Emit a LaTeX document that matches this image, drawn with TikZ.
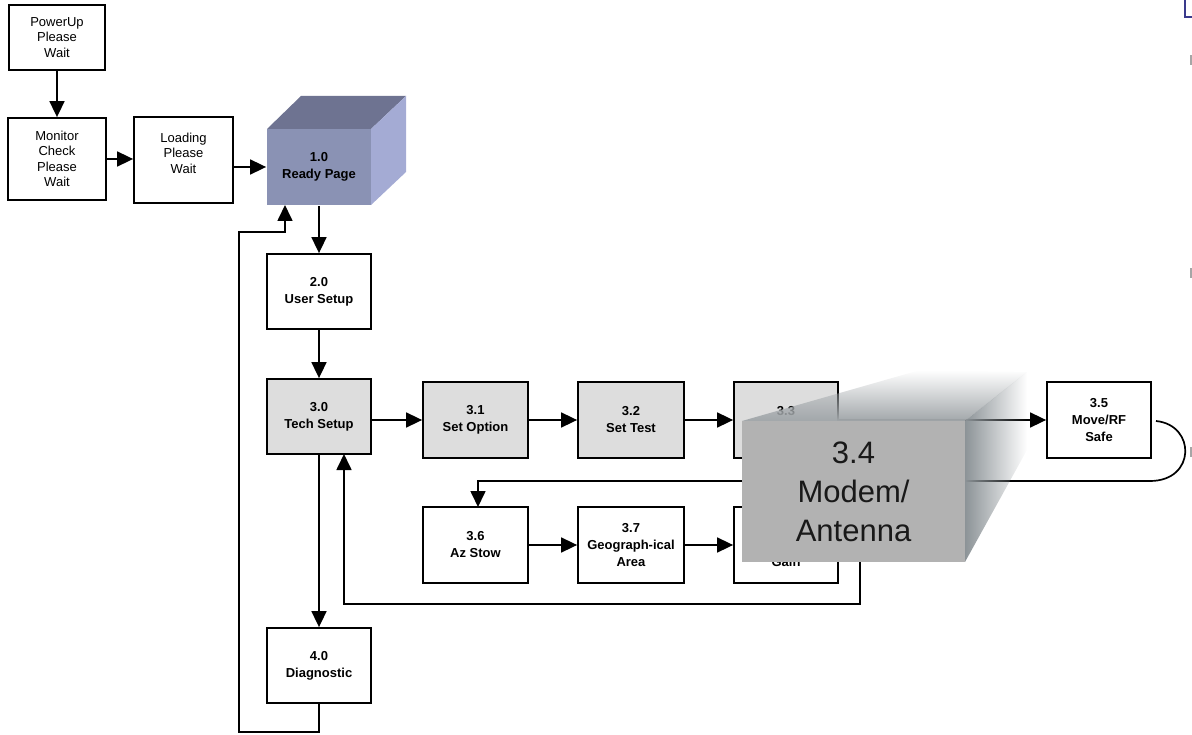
\documentclass[tikz,border=0pt]{standalone}
\usepackage{fontspec}
\setmainfont{Liberation Sans}
\usetikzlibrary{arrows.meta,fadings}
\definecolor{techgray}{HTML}{DDDDDD}
\definecolor{cubefront}{HTML}{8A92B4}
\definecolor{cubetop}{HTML}{6E7391}
\definecolor{cuberight}{HTML}{A4ABD4}
\definecolor{ovfront}{HTML}{B2B2B2}
\definecolor{ovtop}{HTML}{A2A7AA}
\definecolor{ovside}{HTML}{8C9397}
\definecolor{navyline}{HTML}{3A3A8C}
\tikzfading[name=fadeup, bottom color=transparent!0, top color=transparent!100]
\tikzfading[name=faderight, left color=transparent!0, right color=transparent!100]
\begin{document}
\begin{tikzpicture}[x=1pt,y=-1pt,
  box/.style={draw, line width=1.8pt, inner sep=0pt, align=center,
    minimum width=104pt, minimum height=76pt,
    font=\bfseries\fontsize{13}{17}\selectfont},
  plainbox/.style={box, font=\fontsize{13}{15.5}\selectfont},
  gbox/.style={box, fill=techgray},
  arr/.style={line width=1.7pt, -{Triangle[length=16pt,width=15pt]}},
  ln/.style={line width=1.7pt}]
\useasboundingbox (0,0) rectangle (1192,735);

% start-up chain
\node[plainbox, minimum width=96pt, minimum height=65pt] (pwr) at (57,37.5) {PowerUp\\Please\\Wait};
\node[plainbox, minimum width=98pt, minimum height=82pt] (mon) at (57,159) {Monitor\\Check\\Please\\Wait};
\node[plainbox, minimum width=99pt, minimum height=86pt] (load) at (183.5,160) {};
\node[font=\fontsize{13}{15.5}\selectfont, align=center] (loadtxt) at (183.5,153) {Loading\\Please\\Wait};

% cube 1.0
\fill[cubetop] (267,129) -- (301,96) -- (406,96) -- (371,129) -- cycle;
\fill[cuberight] (371,129) -- (406,96) -- (406,172) -- (371,205) -- cycle;
\node[box, draw=none, fill=cubefront] (ready) at (319,167) {1.0\\Ready Page};

\node[box, minimum height=75pt] (user) at (319,291.5) {2.0\\User Setup};
\node[gbox, minimum height=75pt] (tech) at (319,416.5) {3.0\\Tech Setup};
\node[box, minimum height=75pt] (diag) at (319,665.5) {4.0\\Diagnostic};

\node[gbox, minimum width=105pt] (b31) at (475.5,420) {3.1\\Set Option};
\node[gbox, minimum width=106pt] (b32) at (631,420) {3.2\\Set Test};
\node[gbox] (b33) at (786,420) {};
\node[font=\bfseries\fontsize{13}{17}\selectfont] (b33t) at (786,411) {3.3};
\node[box] (b35) at (1099,420) {3.5\\Move/RF\\Safe};

\node[box, minimum width=105pt] (b36) at (475.5,545) {3.6\\Az Stow};
\node[box, minimum width=106pt] (b37) at (631,545) {3.7\\Geograph-ical\\Area};
\node[box] (b38) at (786,545) {};
\node[font=\bfseries\fontsize{13}{17}\selectfont] (b38t) at (786,562) {Gain};

% connectors
\draw[arr] (pwr.south) -- (pwr.south |- mon.north);
\draw[arr] (mon.east) -- (mon.east -| load.west);
\draw[arr] (load.east |- ready.west) -- (ready.west);
\draw[arr] (ready.south) -- (ready.south |- user.north);
\draw[arr] (user.south) -- (tech.north);
\draw[arr] (tech.south) -- (diag.north);
\draw[arr] (tech.east |- b31.west) -- (b31.west);
\draw[arr] (b31.east) -- (b32.west);
\draw[arr] (b32.east) -- (b33.west);
\draw[arr] (b33.east) -- (b35.west);
\draw[arr] (b36.east) -- (b37.west);
\draw[arr] (b37.east) -- (b38.west);

\coordinate (c5a) at (1156,421);
\coordinate (c5b) at (1150,481);
\draw[ln] (c5a) .. controls (1196,425) and (1196,481) .. (c5b);
\draw[arr] (c5b) -- (478,481) -- (478,507);

\coordinate (r1) at (838,530);
\draw[arr] (r1) -- (860,530) -- (860,604) -- (344,604) -- (344,454);

\draw[arr] (diag.south) -- (319,732) -- (239,732) -- (239,232) -- (285,232) -- (285,205);

% 3.4 overlay block
\fill[ovtop, path fading=fadeup] (742,421) -- (920,370) -- (1027,372) -- (965,421) -- cycle;
\fill[ovside, path fading=faderight] (965,421) -- (1027,372) -- (1027,450) -- (965,562) -- cycle;
\node[fill=ovfront, inner sep=0pt, minimum width=223pt, minimum height=141pt, align=center,
  font=\fontsize{31}{39}\selectfont, text=black!90] (b34) at (853.5,491.5) {3.4\\Modem/\\Antenna};

% edge marks
\draw[navyline, line width=1.2pt] (1185,0) -- (1185,17) -- (1192,17);
\fill[gray!70] (1190,55) rectangle (1192,65);
\fill[gray!70] (1190,268) rectangle (1192,278);
\fill[gray!70] (1190,447) rectangle (1192,457);
\end{tikzpicture}
\end{document}
